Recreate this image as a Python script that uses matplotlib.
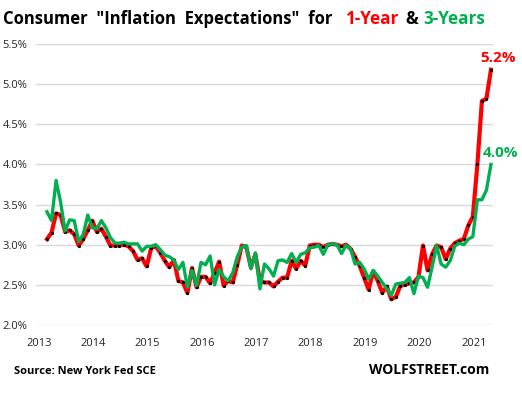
import matplotlib
matplotlib.use("Agg")
import matplotlib.pyplot as plt
import numpy as np

# Monthly data, Jun 2013 .. Aug 2021
start_year, start_month = 2013, 6
one_year = [3.07, 3.15, 3.39, 3.37, 3.16, 3.18, 3.13, 2.99, 3.07, 3.18,
            3.30, 3.16, 3.20, 3.10, 2.99, 2.99, 2.99, 3.00, 2.98, 2.92,
            2.81, 2.83, 2.73, 2.96, 2.98, 2.90, 2.80, 2.72, 2.81, 2.55,
            2.53, 2.40, 2.71, 2.47, 2.60, 2.60, 2.52, 2.65, 2.79, 2.49,
            2.55, 2.53, 2.75, 2.99, 2.97, 2.72, 2.88, 2.55, 2.53, 2.53,
            2.48, 2.54, 2.59, 2.59, 2.80, 2.70, 2.80, 2.74, 2.99, 3.00,
            3.00, 2.97, 3.00, 3.01, 3.00, 2.98, 3.00, 2.95, 2.85, 2.74,
            2.59, 2.44, 2.67, 2.55, 2.40, 2.48, 2.32, 2.35, 2.49, 2.50,
            2.52, 2.53, 2.60, 2.99, 2.68, 2.88, 2.99, 2.97, 2.82, 2.95,
            3.02, 3.05, 3.07, 3.24, 3.35, 4.00, 4.79, 4.82, 5.18]
three_year = [3.41, 3.30, 3.80, 3.53, 3.17, 3.31, 3.30, 3.04, 3.13, 3.37,
              3.21, 3.20, 3.30, 3.21, 3.09, 3.02, 3.02, 3.03, 3.01, 3.01,
              3.01, 2.92, 2.98, 2.98, 3.00, 2.94, 2.87, 2.85, 2.81, 2.69,
              2.78, 2.47, 2.68, 2.49, 2.78, 2.75, 2.86, 2.50, 2.69, 2.60,
              2.55, 2.65, 2.85, 2.97, 2.99, 2.70, 2.90, 2.45, 2.76, 2.70,
              2.61, 2.80, 2.81, 2.78, 2.89, 2.78, 2.88, 2.90, 2.96, 2.97,
              2.99, 2.88, 3.00, 3.01, 3.00, 2.89, 2.99, 2.95, 2.76, 2.78,
              2.70, 2.57, 2.68, 2.61, 2.53, 2.45, 2.37, 2.51, 2.52, 2.53,
              2.59, 2.39, 2.61, 2.59, 2.47, 2.72, 2.99, 2.76, 2.72, 2.80,
              2.98, 3.02, 3.00, 3.07, 3.10, 3.56, 3.56, 3.68, 4.00]
year_labels = ["2013", "2014", "2015", "2016", "2017", "2018", "2019", "2020", "2021"]
y_ticks = [2.0, 2.5, 3.0, 3.5, 4.0, 4.5, 5.0, 5.5]

RED = "#FF0000"
GREEN = "#00B050"
FONT = ["Open Sans", "DejaVu Sans"]

W, H = 522, 393
fig = plt.figure(figsize=(W / 100, H / 100), dpi=100)
ax = fig.add_axes([36 / W, 1 - 325 / H, (493 - 36) / W, (325 - 44) / H])

x = np.arange(len(one_year))
ax.plot(x, one_year, color=RED, lw=3.0, solid_joinstyle="round", zorder=3,
        marker="o", markersize=2.3, markerfacecolor="black",
        markeredgecolor="black", markeredgewidth=0)
ax.plot(x, three_year, color=GREEN, lw=2.4, solid_joinstyle="round", zorder=4)

ax.set_ylim(2.0, 5.5)
ax.set_xlim(-2.43, 98.45)
ax.set_yticks(y_ticks)
ax.set_yticklabels([f"{v:.1f}%" for v in y_ticks], fontfamily=FONT,
                   fontsize=8, color="#262626")
tick_pos = [(int(y) - start_year) * 12 - (start_month - 1) + 3.2 for y in year_labels]
ax.set_xticks(tick_pos)
ax.set_xticklabels(year_labels, fontfamily=FONT, fontsize=8, color="#262626")
ax.tick_params(axis="both", length=0)
ax.tick_params(axis="y", pad=6)
ax.tick_params(axis="x", pad=9)
ax.grid(axis="y", color="#D9D9D9", lw=1)
ax.set_axisbelow(True)
for s in ax.spines.values():
    s.set_visible(False)

# end labels
ax.annotate(f"{one_year[-1]:.1f}%", xy=(x[-1], one_year[-1]), xytext=(5, 8.6),
            textcoords="offset points", ha="center", va="center",
            color=RED, fontweight="bold", fontsize=11, fontfamily=FONT,
            annotation_clip=False)
ax.annotate(f"{three_year[-1]:.1f}%", xy=(x[-1], three_year[-1]), xytext=(7, 8),
            textcoords="offset points", ha="center", va="center",
            color=GREEN, fontweight="bold", fontsize=11, fontfamily=FONT,
            annotation_clip=False)

# title in colored pieces
ty = 1 - 24.5 / H
tkw = dict(fontweight="bold", fontfamily=FONT, va="baseline", ha="left")
fig.text(3 / W, ty, 'Consumer  "Inflation  Expectations"  for', color="black",
         fontsize=12.0, **tkw)
fig.text(345 / W, ty, "1-Year", color=RED, fontsize=12.3, **tkw)
fig.text(405 / W, ty, "&", color="black", fontsize=12.3, **tkw)
fig.text(423 / W, ty, "3-Years", color=GREEN, fontsize=12.3, **tkw)

fig.text(14 / W, 1 - 374 / H, "Source: New York Fed SCE", fontsize=8,
         fontweight="bold", fontfamily=FONT, va="baseline", ha="left")
fig.text(489 / W, 1 - 374 / H, "WOLFSTREET.com", fontsize=10,
         fontweight="bold", fontfamily=FONT, va="baseline", ha="right")

fig.savefig("out.png", dpi=100)
